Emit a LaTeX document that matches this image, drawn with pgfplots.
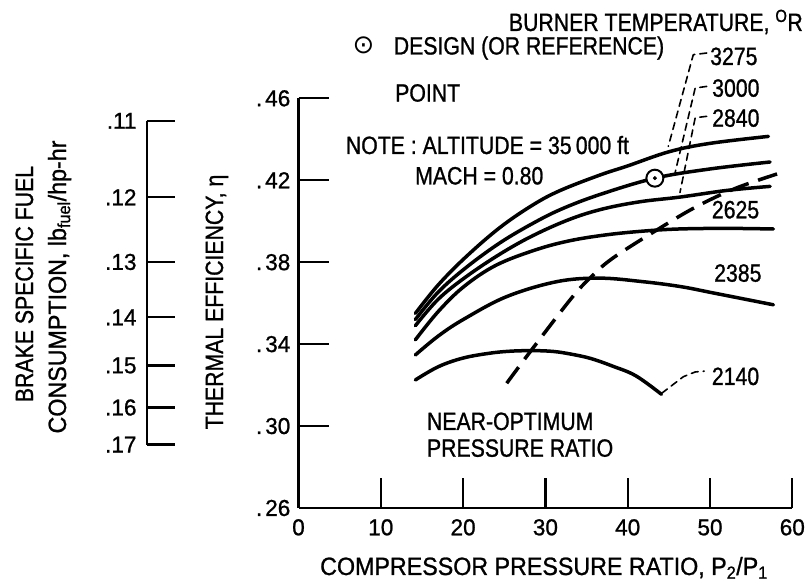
\documentclass[border=0pt]{standalone}
\usepackage{fontspec}
\setmainfont{Liberation Sans}[FakeStretch=0.85, FakeBold=1]
\newfontfamily\tickfont{Liberation Sans}[FakeStretch=0.98, FakeBold=1]
\newfontfamily\widefont{Liberation Sans}[FakeStretch=0.93, FakeBold=1]
\newfontfamily\symfont{DejaVu Sans}
\usepackage{pgfplots}
\pgfplotsset{compat=1.18}

\newcommand\lab{\fontsize{25}{28}\selectfont}
\newcommand\tlab{\fontsize{23}{26}\tickfont}

\begin{document}
\begin{tikzpicture}
% ---------------- main axis: thermal efficiency vs compressor pressure ratio
\begin{axis}[
  scale only axis,
  width=493.8pt, height=409.7pt,
  at={(298.5pt,80pt)}, anchor=south west,
  xmin=0, xmax=60, ymin=0.26, ymax=0.46,
  axis x line=bottom, axis y line=left,
  axis line style={-, line width=2.4pt, black},
  tick align=inside,
  major tick length=30pt,
  tick style={line width=2.2pt, black},
  xtick={0,10,...,60},
  ytick={0.26,0.30,0.34,0.38,0.42,0.46},
  yticklabels={.\kern3pt26,.\kern3pt30,.\kern3pt34,.\kern3pt38,.\kern3pt42,.\kern3pt46},
  /pgf/number format/assume math mode=true,
  tick label style={font=\tlab, inner sep=0pt},
  xticklabel shift=11pt,
  yticklabel shift=8pt,
  clip=false,
  every axis plot/.append style={line cap=round, line join=round},
]
% burner temperature 2140 R
\addplot[line width=3.5pt, smooth, tension=0.6] coordinates {
 (14.2,0.3225) (17,0.3290) (20,0.3332) (23.3,0.3356) (26,0.3366) (28.8,0.3368)
 (31,0.3364) (33,0.3352) (35.5,0.3330) (38.2,0.3292) (41,0.3245) (44.1,0.3155)};
% 2385 R
\addplot[line width=3.5pt, smooth, tension=0.6] coordinates {
 (14.2,0.3347) (17,0.3440) (20.1,0.3522) (25.3,0.3632) (31.4,0.3705) (36.6,0.3722)
 (41.8,0.3705) (46.4,0.3681) (50.5,0.3649) (57.7,0.3592)};
% 2625 R
\addplot[line width=3.5pt, smooth, tension=0.6] coordinates {
 (14.2,0.3421) (17,0.3560) (20.1,0.3681) (24,0.3785) (28.8,0.3860) (33,0.3905)
 (37.5,0.3934) (42,0.3952) (46.2,0.3962) (52,0.3965) (57.7,0.3962)};
% 2840 R
\addplot[line width=3.5pt, smooth, tension=0.6] coordinates {
 (14.2,0.3490) (17,0.3620) (20.4,0.3730) (24.5,0.3840) (28.5,0.3930) (33,0.4010)
 (37,0.4060) (41.5,0.4095) (46.4,0.4118) (52,0.4150) (57.3,0.4170)};
% 3000 R
\addplot[line width=3.5pt, smooth, tension=0.6] coordinates {
 (14.2,0.3520) (17,0.3655) (20.4,0.3775) (24.5,0.3895) (28.5,0.3990) (32,0.4060)
 (36.6,0.4130) (43.3,0.4210) (50,0.4255) (57.3,0.4289)};
% 3275 R
\addplot[line width=3.5pt, smooth, tension=0.6] coordinates {
 (14.2,0.3550) (17,0.3690) (20.4,0.3828) (24.5,0.3970) (28.5,0.4080) (31.8,0.4150)
 (36.6,0.4225) (40,0.4270) (45.1,0.4340) (50,0.4380) (57.1,0.4414)};
% near-optimum pressure ratio
\addplot[line width=3.5pt, smooth, tension=0.6, line cap=butt, dash pattern=on 20pt off 10pt] coordinates {
 (25.3,0.3209) (28.1,0.3360) (33.0,0.3616) (35.4,0.3722) (38.2,0.3820) (43.9,0.3966)
 (48.4,0.4072) (53.2,0.4162) (58.5,0.4235)};
% label leaders
\addplot[line width=1.6pt, dash pattern=on 7pt off 5pt] coordinates {
 (49.6,0.4821) (47.97,0.4813) (44.93,0.4365)};
\addplot[line width=1.6pt, dash pattern=on 7pt off 5pt] coordinates {
 (49.6,0.4658) (48.2,0.4650) (45.75,0.4235)};
\addplot[line width=1.6pt, dash pattern=on 7pt off 5pt] coordinates {
 (49.6,0.4512) (48.2,0.4505) (46.35,0.4140)};
\addplot[line width=1.6pt, dash pattern=on 7pt off 5pt] coordinates {
 (44.13,0.3160) (46.76,0.3241) (48.2,0.3264) (49.3,0.3268)};
% design (reference) point
\addplot[only marks, mark=*, mark size=8.5pt, mark options={fill=white, draw=black, line width=2pt}] coordinates {(43.3,0.421)};
\addplot[only marks, mark=*, mark size=1.8pt, mark options={fill=black}] coordinates {(43.3,0.421)};
\end{axis}

% ---------------- brake specific fuel consumption scale (lb/hp-hr = 0.0493/eta)
\begin{axis}[
  scale only axis,
  width=1pt, height=323.8pt,
  at={(146.7pt,143.4pt)}, anchor=south west,
  xmin=0, xmax=1, ymin=0.29, ymax=0.448182,
  axis y line=left, axis x line=none,
  axis line style={-, line width=2.4pt, black},
  tick align=inside, major tick length=28pt,
  tick style={line width=2.2pt, black},
  xtick=\empty,
  ytick={0.29,0.308125,0.328667,0.352143,0.379231,0.410833,0.448182},
  yticklabels={.17,.16,.15,.14,.13,.12,.11},
  tick label style={font=\tlab, inner sep=0pt},
  yticklabel shift=10pt,
]
\end{axis}

% ---------------- titles and annotations
\begin{scope}[x=1pt, y=-1pt, yshift=588pt, every node/.style={inner sep=0pt, font=\lab}]
\node[anchor=base east] at (803,31) {BURNER TEMPERATURE, \textsuperscript{O}R};
\node[anchor=center, font=\fontsize{26}{26}\symfont] at (363.5,45) {⊙};
\node[anchor=base west] at (393.6,54.5) {DESIGN (OR REFERENCE)};
\node[anchor=base west] at (395,101.6) {POINT};
\node[anchor=base west] at (345.7,154) {NOTE : ALTITUDE = 35\,000 ft};
\node[anchor=base west] at (415,184.4) {MACH = 0.80};
\node[anchor=base west] at (710,65) {3275};
\node[anchor=base west] at (712,96.7) {3000};
\node[anchor=base west] at (712,126.7) {2840};
\node[anchor=base west] at (711.7,218.3) {2625};
\node[anchor=base west] at (714,281.7) {2385};
\node[anchor=base west] at (711.7,385) {2140};
\node[anchor=base west] at (426.8,430) {NEAR-OPTIMUM};
\node[anchor=base west] at (426.8,456.7) {PRESSURE RATIO};
\node[anchor=base, font=\fontsize{25}{28}\widefont] at (544,575) {COMPRESSOR PRESSURE RATIO, P\textsubscript{2}/P\textsubscript{1}};
\node[anchor=base, rotate=90] at (33,284) {BRAKE SPECIFIC FUEL};
\node[anchor=base, rotate=90, font=\fontsize{25}{28}\widefont] at (66,287) {CONSUMPTION, lb\textsubscript{fuel}/hp-hr};
\node[anchor=base, rotate=90] at (223,302) {THERMAL EFFICIENCY, η};
\end{scope}

\pgfresetboundingbox
\path[use as bounding box] (0,0) rectangle (805pt,588pt);
\end{tikzpicture}
\end{document}
